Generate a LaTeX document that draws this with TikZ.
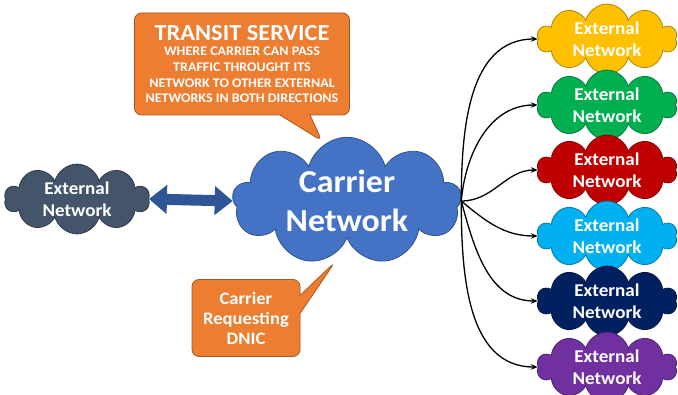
\documentclass[tikz,border=0pt]{standalone}
\usepackage{fontspec}
\setmainfont{Carlito}[FakeStretch=1.06]
\usetikzlibrary{shapes.symbols,shapes.callouts,arrows.meta}

\definecolor{carrierblue}{HTML}{4472C4}
\definecolor{slategrey}{HTML}{44546A}
\definecolor{linkblue}{HTML}{2F5597}
\definecolor{bubbleorange}{HTML}{ED7D31}
\definecolor{extyellow}{HTML}{FFC000}
\definecolor{extgreen}{HTML}{00B050}
\definecolor{extred}{HTML}{C00000}
\definecolor{extsky}{HTML}{00B0F0}
\definecolor{extnavy}{HTML}{002060}
\definecolor{extpurple}{HTML}{7030A0}

\begin{document}
\begin{tikzpicture}[x=1pt,y=-1pt,
    netcloud/.style={cloud, cloud puffs=10, cloud ignores aspect, fill=#1, draw=#1!70!black,
        line width=0.8pt, text=white, align=center, inner sep=0pt,
        font=\fontsize{18}{22}\selectfont\bfseries, minimum width=140pt, minimum height=64pt},
    bubble/.style={rectangle callout, fill=bubbleorange, draw=bubbleorange!70!black,
        line width=0.8pt, rounded corners=7pt, text=white, align=center, font=\bfseries},
    fan/.style={-{Stealth[length=7pt,width=5.5pt]}, line width=1.3pt}]
    \useasboundingbox[fill=white] (0,0) rectangle (678,395);

    \node[netcloud=carrierblue, cloud puffs=9, minimum width=229pt, minimum height=127pt,
        font=\fontsize{32}{39}\selectfont\bfseries] (carrier) at (347,201) {Carrier\\Network};
    \node[netcloud=slategrey, minimum width=145pt, minimum height=65pt] (westnet) at (77,199) {External\\Network};

    \node[netcloud=extyellow] (netA) at (607,39) {External\\Network};
    \node[netcloud=extgreen] (netB) at (607,105) {External\\Network};
    \node[netcloud=extred] (netC) at (607,170) {External\\Network};
    \node[netcloud=extsky] (netD) at (607,236) {External\\Network};
    \node[netcloud=extnavy] (netE) at (607,301) {External\\Network};
    \node[netcloud=extpurple] (netF) at (607,367) {External\\Network};

    \draw[{Triangle[length=18pt,width=28pt]}-{Triangle[length=18pt,width=28pt]},
        line width=11pt, draw=linkblue] (westnet.east) -- (carrier.west);

    \draw[fan] (carrier.east) to[out=90,in=180] (netA.west);
    \draw[fan] (carrier.east) to[out=85,in=180] (netB.west);
    \draw[fan] (carrier.east) to[out=0,in=180] (netC.west);
    \draw[fan] (carrier.east) to[out=-40,in=180] (netD.west);
    \draw[fan] (carrier.east) to[out=-75,in=180] (netE.west);
    \draw[fan] (carrier.east) to[out=-90,in=180] (netF.west);

    \coordinate (transittip) at (322,141);
    \node[bubble, minimum width=215pt, minimum height=102pt, callout pointer width=30pt,
        callout absolute pointer={(transittip)}, font=\fontsize{13.2}{15.7}\selectfont\bfseries] (transit) at (242,64)
        {\fontsize{23}{22}\selectfont TRANSIT SERVICE\\
         WHERE CARRIER CAN PASS\\TRAFFIC THROUGHT ITS\\NETWORK TO OTHER EXTERNAL\\NETWORKS IN BOTH DIRECTIONS};

    \coordinate (dnictip) at (335,262);
    \node[bubble, minimum width=108pt, minimum height=77pt, callout pointer width=18pt,
        callout absolute pointer={(dnictip)}, font=\fontsize{17.5}{20}\selectfont\bfseries] (dnic) at (246,318)
        {Carrier\\Requesting\\DNIC};
\end{tikzpicture}
\end{document}
